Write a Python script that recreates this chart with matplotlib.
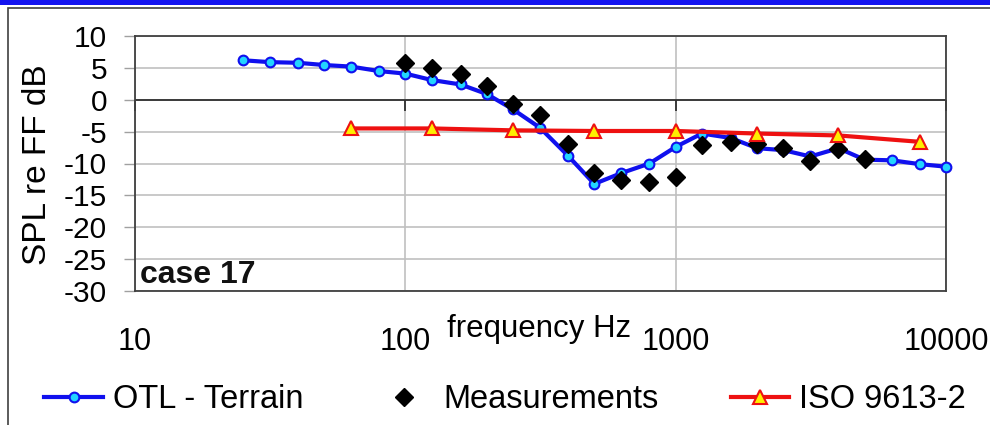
import matplotlib
matplotlib.use("Agg")
import matplotlib.pyplot as plt
import matplotlib.transforms as mtransforms
from matplotlib.patches import Rectangle
from matplotlib.lines import Line2D

plt.rcParams['font.family'] = ['Liberation Sans', 'DejaVu Sans']

# one-third octave bands for the OTL model
otlFreq = [25, 31.5, 40, 50, 63, 80, 100, 125, 160, 200, 250, 315, 400, 500,
           630, 800, 1000, 1250, 1600, 2000, 2500, 3150, 4000, 5000, 6300, 8000, 10000]
otlSpl = [6.2, 5.9, 5.8, 5.45, 5.2, 4.5, 4.1, 3.1, 2.4, 0.9, -1.5, -4.4, -8.8, -13.2,
          -11.5, -10.0, -7.4, -5.3, -6.0, -7.6, -7.9, -8.9, -7.6, -9.4, -9.5, -10.1, -10.5]

measFreq = [100, 125, 160, 200, 250, 315, 400, 500, 630, 800, 1000, 1250,
            1600, 2000, 2500, 3150, 4000, 5000]
measSpl = [5.8, 5.0, 4.0, 2.1, -0.6, -2.4, -6.9, -11.5, -12.6, -12.9, -12.1, -7.1,
           -6.6, -7.0, -7.6, -9.6, -7.7, -9.3]

isoFreq = [63, 125, 250, 500, 1000, 2000, 4000, 8000]
isoSpl = [-4.5, -4.5, -4.8, -4.9, -4.9, -5.3, -5.6, -6.6]

xTicks = [10, 100, 1000, 10000]
yTicks = [10, 5, 0, -5, -10, -15, -20, -25, -30]

W, H = 990, 425
fig = plt.figure(figsize=(W / 100, H / 100), dpi=100)

# outer frame and blue bar at the top
fig.patches.append(Rectangle((0, 1 - 5 / H), 1, 5 / H, transform=fig.transFigure,
                             facecolor='#1414f0', edgecolor='none'))
fig.patches.append(Rectangle((8 / W, -0.5), 1.2, 1.5 - 8 / H, transform=fig.transFigure,
                             facecolor='none', edgecolor='#404040', lw=1.2))

ax = fig.add_axes([135 / W, 1 - 291 / H, 811 / W, 255 / H])
ax.set_xscale('log')
ax.set_xlim(10, 10000)
ax.set_ylim(-30, 10)

ax.grid(True, which='major', color='#c0c0c0', lw=1.2)
ax.set_axisbelow(True)
ax.axhline(0, color='#303030', lw=1.3, zorder=1.5)

for s in ax.spines.values():
    s.set_color('#404040')
    s.set_linewidth(1.3)

ax.set_xticks(xTicks)
ax.set_xticklabels([str(t) for t in xTicks])
ax.minorticks_off()
ax.tick_params(axis='x', length=0, pad=26, labelsize=22)
ax.set_yticks(yTicks)
ax.set_yticklabels([str(t) for t in yTicks])
ax.tick_params(axis='y', length=8, color='#a0a0a0', width=1, pad=12, labelsize=21.5)

# tick marks hanging below the zero line (excel axis crossing)
zeroFrac = (0 - ax.get_ylim()[0]) / (ax.get_ylim()[1] - ax.get_ylim()[0])
trans = mtransforms.blended_transform_factory(ax.transData, ax.transAxes)
ax.vlines(xTicks, zeroFrac - 11 / 255, zeroFrac, transform=trans,
          color='#303030', lw=1.3, zorder=1.5, clip_on=False)

ax.plot(otlFreq, otlSpl, '-o', color='#1010ee', lw=3, marker='o', markersize=7,
        markerfacecolor='#22d4ff', markeredgecolor='#1010ee', markeredgewidth=1.5,
        zorder=3, clip_on=False)
ax.plot(measFreq, measSpl, 'D', color='black', markersize=9, zorder=4, clip_on=False)
ax.plot(isoFreq, isoSpl, '-^', color='#ee1111', lw=3, markersize=10,
        markerfacecolor='#ffee00', markeredgecolor='#ee1111', markeredgewidth=1.5,
        zorder=5, clip_on=False)

ax.text(0.006, 0.031, 'case 17', transform=ax.transAxes,
        fontsize=23, fontweight='bold', va='baseline', ha='left', color='#111111')

fig.text(447 / W, 1 - 337 / H, 'frequency Hz', fontsize=22.5, va='baseline', ha='left')
fig.text(38 / W, 1 - 165 / H, 'SPL re FF dB', fontsize=24, rotation=90,
         va='center', ha='center')

handles = [
    Line2D([], [], color='#1010ee', lw=3, marker='o', markersize=7,
           markerfacecolor='#22d4ff', markeredgecolor='#1010ee', markeredgewidth=1.5),
    Line2D([], [], color='black', lw=0, marker='D', markersize=9),
    Line2D([], [], color='#ee1111', lw=3, marker='^', markersize=10,
           markerfacecolor='#ffee00', markeredgecolor='#ee1111', markeredgewidth=1.5),
]
labels = ['OTL - Terrain', 'Measurements', 'ISO 9613-2']
fig.legend(handles, labels, loc='center', bbox_to_anchor=(505 / W, 1 - 400 / H),
           ncol=3, frameon=False, fontsize=23.5, handlelength=1.8, handletextpad=0.3,
           columnspacing=2.2, borderpad=0)

fig.savefig('out.png', dpi=100)
